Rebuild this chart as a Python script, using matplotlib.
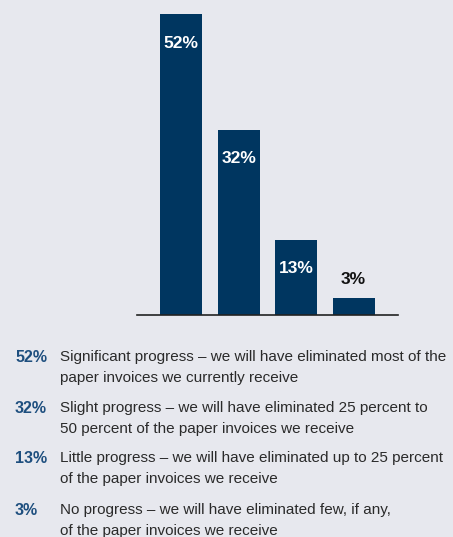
import matplotlib.pyplot as plt

plt.rcParams['font.family'] = ['Liberation Sans', 'DejaVu Sans']

values = [52, 32, 13, 3]
labels = ['52%', '32%', '13%', '3%']
descriptions = [
    'Significant progress \u2013 we will have eliminated most of the\npaper invoices we currently receive',
    'Slight progress \u2013 we will have eliminated 25 percent to\n50 percent of the paper invoices we receive',
    'Little progress \u2013 we will have eliminated up to 25 percent\nof the paper invoices we receive',
    'No progress \u2013 we will have eliminated few, if any,\nof the paper invoices we receive',
]

bg = '#e7e8ee'
navy = '#003660'

W, H = 453, 537
fig = plt.figure(figsize=(W / 100, H / 100), dpi=100, facecolor=bg)
ax = fig.add_axes([137 / W, 1 - 315 / H, (398 - 137) / W, 315 / H])
ax.set_facecolor(bg)

x = range(len(values))
bars = ax.bar(x, values, width=0.73, color=navy)
ax.set_xlim(-0.765, 3.77)
ax.set_ylim(0, 54.4)

for i, (v, lab) in enumerate(zip(values, labels)):
    if v > 10:
        ax.annotate(lab, (i, v), xytext=(0, -21), textcoords='offset points',
                    ha='center', va='center', color='white', fontsize=12.5, fontweight='bold')
    else:
        ax.annotate(lab, (i, v), xytext=(0, 13), textcoords='offset points',
                    ha='center', va='center', color='#111111', fontsize=12.5, fontweight='bold')

for s in ['top', 'left', 'right']:
    ax.spines[s].set_visible(False)
ax.spines['bottom'].set_color('#222222')
ax.spines['bottom'].set_linewidth(1.2)
ax.set_xticks([])
ax.set_yticks([])

# legend block below the chart
tops = [350, 401, 451, 503]
for t, lab, desc in zip(tops, labels, descriptions):
    fig.text(15 / W, 1 - t / H, lab, ha='left', va='top', color='#1d4e7e',
             fontsize=11.5, fontweight='bold')
    fig.text(60 / W, 1 - t / H, desc, ha='left', va='top', color='#2a2a2a',
             fontsize=11, linespacing=1.6)

fig.savefig('out.png', dpi=100, facecolor=bg)
